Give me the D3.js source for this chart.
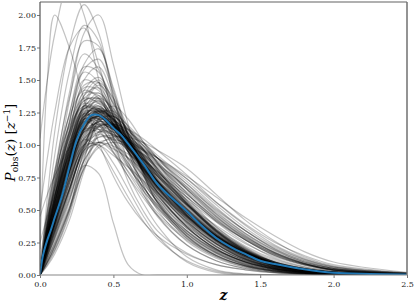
<!DOCTYPE html>
<html>
<head>
<meta charset="utf-8">
<script src="https://cdn.jsdelivr.net/npm/d3@7"></script>
<style>
  html, body { margin: 0; padding: 0; background: #fff; }
  svg { display: block; }
  text { font-family: "DejaVu Serif", "Liberation Serif", serif; }
</style>
</head>
<body>
<svg id="chart" width="415" height="305"></svg>
<script>
// ---- Data ----
const gridZ = [0, 0.05, 0.1, 0.2, 0.3, 0.4, 0.5, 0.6, 0.7, 0.8, 1.0, 1.2, 1.4, 1.6, 1.8, 2.0, 2.5];

const sampleCurves = [
  [0,.22,.42,.80,1.12,1.22,1.14,1.02,.88,.72,.50,.30,.17,.09,.05,.02,.004],
  [0,.30,.52,.92,1.22,1.28,1.15,.99,.83,.68,.45,.27,.15,.08,.04,.02,.003],
  [0,.18,.35,.70,1.02,1.16,1.12,1.03,.90,.76,.54,.34,.19,.10,.05,.025,.005],
  [0,.26,.48,.88,1.20,1.32,1.20,1.04,.87,.71,.47,.28,.15,.07,.035,.015,.002],
  [.02,.35,.60,1.00,1.28,1.30,1.16,.98,.80,.64,.41,.24,.13,.06,.03,.012,.002],
  [0,.15,.30,.64,.98,1.15,1.14,1.06,.94,.80,.57,.36,.21,.11,.055,.025,.004],
  [0,.24,.44,.84,1.18,1.26,1.16,1.00,.85,.70,.48,.29,.16,.08,.04,.018,.003],
  [0,.28,.50,.90,1.25,1.38,1.25,1.05,.86,.68,.43,.25,.13,.06,.03,.012,.002],
  [0,.20,.38,.74,1.06,1.18,1.13,1.02,.89,.75,.52,.32,.18,.09,.045,.02,.004],
  [0,.32,.56,.96,1.24,1.24,1.10,.95,.80,.66,.44,.27,.15,.075,.035,.015,.002],
  [0,.12,.26,.58,.94,1.14,1.16,1.08,.96,.82,.58,.37,.22,.12,.06,.03,.006],
  [0,.25,.46,.86,1.16,1.22,1.12,.99,.85,.71,.49,.30,.17,.085,.04,.018,.003],
  [0,.38,.64,1.06,1.34,1.35,1.18,.97,.78,.61,.38,.22,.11,.05,.022,.01,.001],
  [0,.22,.40,.78,1.08,1.20,1.14,1.03,.90,.76,.53,.33,.18,.09,.045,.02,.004],
  [0,.27,.49,.89,1.21,1.30,1.18,1.01,.84,.68,.45,.27,.15,.07,.033,.014,.002],
  [0,.16,.32,.67,1.00,1.15,1.12,1.04,.92,.78,.56,.35,.20,.10,.05,.022,.004],
  [0,.29,.51,.91,1.19,1.23,1.12,.98,.84,.70,.48,.29,.16,.08,.038,.016,.003],
  [0,.21,.40,.80,1.14,1.27,1.20,1.06,.90,.74,.50,.30,.16,.08,.038,.016,.003],
  [.03,.33,.55,.94,1.20,1.20,1.08,.95,.82,.69,.48,.30,.17,.09,.045,.02,.004],
  [0,.19,.37,.75,1.10,1.25,1.20,1.07,.92,.76,.51,.31,.17,.08,.038,.016,.003],
  [0,.24,.45,.85,1.17,1.24,1.14,1.00,.86,.72,.49,.30,.17,.085,.04,.017,.003],
  [0,.14,.28,.62,.99,1.19,1.19,1.09,.95,.80,.55,.34,.19,.09,.045,.02,.003],
  [0,.31,.54,.95,1.27,1.33,1.19,1.01,.83,.67,.44,.26,.14,.07,.032,.013,.002],
  [0,.23,.43,.82,1.13,1.21,1.13,1.01,.87,.73,.51,.31,.18,.09,.044,.02,.004],
  [0,.26,.47,.86,1.15,1.19,1.09,.97,.85,.72,.51,.32,.18,.09,.045,.02,.004],
  [0,.20,.38,.72,1.00,1.08,1.04,.97,.89,.80,.62,.44,.29,.17,.09,.045,.008],
  [0,.17,.33,.66,.96,1.06,1.05,1.00,.93,.84,.66,.47,.31,.18,.10,.05,.01],
  [0,.25,.46,.84,1.10,1.14,1.07,.98,.89,.79,.60,.42,.27,.15,.08,.04,.007],
  [0,.22,.41,.77,1.05,1.12,1.08,1.01,.92,.83,.64,.45,.29,.17,.09,.04,.006],
  [0,.14,.29,.60,.92,1.06,1.07,1.03,.96,.88,.70,.51,.34,.20,.11,.055,.012],
  [0,.30,.55,.98,1.26,1.24,1.04,.84,.66,.51,.30,.16,.08,.035,.015,.006,.001],
  [0,.34,.60,1.02,1.24,1.17,.98,.79,.62,.48,.28,.15,.07,.03,.012,.005,.001],
  [0,.26,.50,.92,1.18,1.12,.94,.76,.60,.46,.27,.14,.07,.03,.012,.005,.001],
  [0,.20,.40,.80,1.10,1.10,.95,.80,.65,.52,.32,.18,.09,.04,.018,.007,.001],
  [0,.28,.52,.94,1.20,1.15,.99,.83,.68,.54,.34,.19,.10,.045,.02,.008,.001],
  [0,.34,.62,1.12,1.46,1.48,1.28,1.04,.82,.63,.37,.20,.10,.045,.02,.008,.001],
  [0,.28,.54,1.04,1.42,1.52,1.34,1.08,.84,.64,.37,.20,.10,.045,.02,.008,.001],
  [0,.40,.72,1.24,1.56,1.48,1.22,.96,.74,.56,.32,.17,.08,.035,.015,.006,.001],
  [0,.30,.58,1.10,1.50,1.60,1.36,1.06,.80,.60,.34,.18,.09,.04,.017,.007,.001],
  [0,.36,.66,1.18,1.58,1.66,1.40,1.08,.80,.58,.32,.17,.08,.035,.015,.006,.001],
  [0,.44,.80,1.36,1.70,1.58,1.24,.94,.70,.52,.29,.15,.07,.03,.012,.005,.001],
  [0,.30,.60,1.16,1.62,1.74,1.44,1.08,.78,.56,.30,.15,.07,.03,.012,.005,.001],
  [0,.50,.92,1.56,1.92,1.80,1.36,.98,.70,.50,.26,.13,.06,.025,.01,.004,.001],
  [0,.36,.70,1.34,1.86,2.00,1.62,1.16,.80,.55,.28,.14,.06,.025,.01,.004,.001],
  [0,.60,1.10,1.76,2.08,1.86,1.38,.96,.66,.46,.23,.11,.05,.02,.008,.003,.001],
  [0,.40,.76,1.40,1.80,1.76,1.42,1.06,.78,.56,.30,.15,.07,.03,.012,.005,.001],
  [.2,1.5,2.0,1.75,1.35,1.02,.76,.56,.41,.30,.16,.08,.04,.018,.008,.003,0],
  [1.05,1.5,1.85,2.25,2.0,1.5,1.05,.72,.50,.34,.17,.08,.04,.017,.007,.003,0],
  [.5,.9,1.25,1.75,1.9,1.62,1.22,.88,.63,.45,.23,.11,.05,.02,.008,.003,0],
  [0,.10,.22,.50,.84,.78,.40,.08,0,0,0,0,0,0,0,0,0],
  [0,.16,.32,.66,.96,1.00,.86,.66,.46,.30,.10,.02,0,0,0,0,0],
  [0,.22,.42,.80,1.04,.98,.80,.60,.42,.28,.11,.03,.005,0,0,0,0],
  [0,.10,.22,.52,.88,1.02,.94,.76,.56,.38,.14,.04,.008,0,0,0,0],
  [0,.12,.24,.52,.82,.98,1.02,.99,.93,.85,.68,.50,.34,.21,.12,.06,.012],
  [.45,.62,.76,.98,1.12,1.12,1.02,.90,.77,.64,.43,.26,.14,.07,.033,.014,.002],
  [.25,.45,.62,.92,1.16,1.22,1.12,.98,.83,.68,.45,.27,.15,.075,.035,.015,.002],
  [0,.10,.22,.50,.82,1.00,1.06,1.06,1.02,.96,.82,.62,.42,.26,.14,.07,.015],
  [0,.18,.34,.66,.96,1.10,1.10,1.05,.98,.90,.72,.52,.34,.20,.11,.05,.01],
  [0,.20,.39,.78,1.12,1.26,1.19,1.04,.88,.72,.48,.28,.15,.075,.035,.015,.002],
  [0,.27,.48,.87,1.17,1.25,1.16,1.02,.87,.72,.49,.30,.17,.085,.04,.018,.003],
  [0,.24,.46,.88,1.22,1.30,1.18,1.02,.86,.70,.46,.27,.14,.07,.033,.014,.002],
  [0,.19,.36,.72,1.06,1.20,1.16,1.05,.91,.77,.54,.33,.19,.095,.046,.02,.004],
  [0,.29,.52,.93,1.23,1.27,1.14,.98,.83,.68,.46,.28,.15,.075,.035,.015,.002],
  [0,.21,.41,.81,1.13,1.23,1.15,1.02,.88,.74,.51,.31,.17,.085,.04,.018,.003],
  [0,.33,.58,1.00,1.30,1.36,1.20,1.00,.81,.64,.41,.24,.12,.055,.025,.01,.001],
  [0,.17,.34,.70,1.04,1.18,1.15,1.05,.92,.78,.55,.35,.20,.10,.05,.022,.004],
  [0,.26,.48,.90,1.24,1.34,1.22,1.04,.86,.70,.46,.27,.14,.065,.03,.012,.002],
  [0,.23,.44,.83,1.14,1.22,1.13,1.00,.86,.72,.50,.31,.17,.085,.04,.018,.003],
  [0,.30,.54,.96,1.28,1.40,1.26,1.05,.85,.67,.42,.24,.12,.055,.025,.01,.001],
  [0,.18,.35,.70,1.02,1.14,1.10,1.01,.89,.76,.54,.34,.19,.095,.045,.02,.004],
  [0,.36,.62,1.06,1.38,1.44,1.26,1.02,.80,.62,.37,.20,.10,.045,.02,.008,.001],
  [0,.20,.40,.82,1.20,1.36,1.28,1.10,.90,.72,.46,.26,.13,.06,.027,.011,.002],
  [0,.26,.49,.90,1.20,1.26,1.16,1.02,.87,.72,.48,.29,.16,.08,.037,.016,.003],
  [0,.15,.30,.64,1.00,1.20,1.22,1.12,.97,.81,.55,.33,.18,.085,.04,.017,.003],
  [0,.32,.56,.98,1.30,1.46,1.32,1.08,.86,.66,.40,.22,.11,.05,.022,.009,.001],
  [0,.24,.44,.80,1.08,1.18,1.15,1.09,1.00,.90,.70,.49,.32,.19,.10,.05,.01],
  [0,.30,.52,.90,1.16,1.22,1.16,1.07,.97,.87,.66,.46,.30,.17,.09,.045,.008],
  [0,.20,.38,.74,1.04,1.16,1.15,1.10,1.02,.92,.74,.54,.36,.22,.12,.06,.012],
  [0,.36,.60,.98,1.22,1.24,1.15,1.04,.93,.82,.62,.43,.28,.16,.085,.04,.007],
  [0,.28,.50,.88,1.16,1.26,1.22,1.13,1.02,.90,.68,.47,.30,.17,.09,.04,.007],
  [0,.16,.32,.66,.98,1.14,1.16,1.12,1.05,.96,.77,.56,.38,.23,.13,.065,.014],
  [0,.40,.66,1.06,1.28,1.26,1.14,1.02,.90,.79,.60,.42,.27,.15,.08,.038,.006],
  [0,.22,.42,.80,1.12,1.26,1.24,1.15,1.03,.90,.66,.45,.28,.16,.085,.04,.007],
  [0,.26,.47,.84,1.10,1.17,1.12,1.05,.96,.86,.67,.48,.32,.19,.10,.05,.01],
  [0,.33,.56,.94,1.20,1.27,1.20,1.09,.97,.85,.63,.43,.27,.15,.08,.037,.006],
  [0,.34,.60,1.02,1.28,1.28,1.10,.90,.72,.56,.34,.19,.095,.045,.02,.008,.001],
  [0,.28,.52,.94,1.22,1.20,1.02,.84,.68,.54,.33,.19,.10,.05,.022,.009,.001],
  [0,.40,.68,1.10,1.32,1.26,1.06,.86,.68,.53,.31,.17,.085,.04,.017,.007,.001],
  [0,.24,.46,.88,1.18,1.20,1.06,.89,.73,.59,.38,.22,.12,.06,.027,.011,.002],
  [0,.30,.56,1.00,1.30,1.34,1.16,.95,.76,.59,.36,.20,.10,.045,.02,.008,.001],
  [0,.20,.40,.80,1.12,1.16,1.02,.86,.71,.57,.36,.21,.11,.05,.022,.009,.001],
  [0,.45,.75,1.16,1.36,1.32,1.16,.98,.82,.67,.45,.27,.15,.07,.033,.014,.002],
  [.05,.48,.78,1.14,1.30,1.24,1.10,.95,.81,.68,.47,.29,.16,.08,.038,.016,.003],
  [0,.42,.70,1.10,1.34,1.36,1.20,1.00,.82,.66,.43,.25,.13,.06,.027,.011,.002],
  [.1,.50,.80,1.22,1.42,1.36,1.16,.95,.77,.61,.39,.22,.11,.05,.022,.009,.001],
  [0,.38,.66,1.08,1.30,1.26,1.12,.97,.83,.70,.48,.30,.17,.085,.04,.017,.003],
  [0,.08,.18,.46,.84,1.10,1.18,1.12,1.00,.86,.60,.37,.21,.10,.048,.02,.003],
  [0,.10,.20,.50,.90,1.18,1.22,1.12,.97,.81,.55,.33,.18,.085,.04,.017,.003],
  [0,.09,.19,.48,.88,1.20,1.30,1.20,1.03,.86,.57,.34,.18,.085,.04,.016,.002],
  [0,.12,.24,.56,.96,1.24,1.26,1.14,.98,.82,.56,.34,.19,.09,.042,.018,.003],
  [0,.07,.16,.42,.80,1.08,1.16,1.11,1.00,.87,.63,.41,.25,.13,.065,.03,.005],
  [0,.32,.60,1.10,1.44,1.42,1.22,1.00,.81,.65,.41,.24,.12,.055,.025,.01,.001],
  [0,.26,.50,.98,1.38,1.50,1.32,1.08,.86,.68,.42,.24,.12,.055,.025,.01,.001],
  [0,.36,.66,1.18,1.50,1.44,1.22,.99,.80,.64,.40,.23,.12,.055,.025,.01,.001],
  [0,.22,.44,.90,1.32,1.48,1.36,1.14,.92,.73,.46,.27,.14,.065,.03,.012,.002],
  [0,.30,.58,1.08,1.40,1.38,1.20,1.00,.82,.67,.44,.26,.14,.065,.03,.012,.002],
  [0,.38,.70,1.24,1.60,1.56,1.30,1.03,.80,.62,.37,.20,.10,.045,.02,.008,.001],
  [0,.28,.54,1.02,1.36,1.40,1.24,1.04,.86,.70,.46,.28,.15,.07,.032,.013,.002],
  [0,.22,.40,.74,.98,1.02,.97,.90,.81,.72,.54,.38,.24,.14,.075,.036,.006],
  [0,.26,.46,.80,1.00,1.00,.92,.83,.73,.63,.45,.30,.18,.10,.05,.023,.004],
  [0,.18,.34,.66,.94,1.02,.99,.93,.85,.76,.58,.41,.27,.16,.085,.04,.007],
  [0,.14,.28,.58,.88,1.02,1.04,1.01,.96,.90,.76,.60,.44,.30,.18,.10,.02],
  [0,.20,.38,.72,1.00,1.10,1.08,1.03,.97,.90,.74,.56,.39,.25,.15,.08,.016],
  [0,.25,.47,.87,1.19,1.28,1.19,1.04,.88,.73,.49,.30,.16,.08,.037,.016,.003],
  [0,.21,.40,.79,1.11,1.21,1.15,1.04,.91,.78,.55,.35,.20,.10,.05,.022,.004],
  [0,.31,.55,.96,1.24,1.28,1.16,1.01,.86,.72,.49,.30,.17,.085,.04,.017,.003],
  [0,.27,.50,.91,1.22,1.29,1.17,1.01,.85,.70,.47,.28,.15,.075,.035,.015,.002],
  [0,.23,.43,.82,1.13,1.22,1.15,1.03,.90,.77,.54,.34,.19,.095,.045,.02,.004],
  [0,.35,.58,.98,1.25,1.25,1.12,.97,.83,.70,.49,.31,.18,.09,.043,.019,.003],
  [0,.19,.37,.76,1.12,1.28,1.23,1.09,.93,.78,.53,.32,.18,.085,.04,.017,.003]
];

const meanZ = [0, 0.02, 0.05, 0.075, 0.1, 0.15, 0.2, 0.25, 0.3, 0.35, 0.4, 0.45, 0.5, 0.55, 0.6, 0.7, 0.8, 0.9, 1.0, 1.1, 1.2, 1.3, 1.4, 1.5, 1.6, 1.8, 2.0, 2.25, 2.5];
const meanP = [0, 0.15, 0.27, 0.35, 0.44, 0.61, 0.83, 1.04, 1.16, 1.23, 1.23, 1.19, 1.13, 1.08, 1.01, 0.86, 0.70, 0.59, 0.49, 0.38, 0.285, 0.215, 0.16, 0.11, 0.085, 0.045, 0.018, 0.008, 0.003];

const xTicks = [0.0, 0.5, 1.0, 1.5, 2.0, 2.5];
const yTicks = [0.00, 0.25, 0.50, 0.75, 1.00, 1.25, 1.50, 1.75, 2.00];

// ---- Layout ----
const W = 415, H = 305;
const m = { left: 40, right: 8, top: 2, bottom: 30 };
const svg = d3.select("#chart");

const x = d3.scaleLinear().domain([0, 2.5]).range([m.left, W - m.right]);
const y = d3.scaleLinear().domain([0, 2.1]).range([H - m.bottom, m.top]);

svg.append("defs").append("clipPath").attr("id", "clip")
  .append("rect")
  .attr("x", m.left).attr("y", m.top)
  .attr("width", W - m.left - m.right).attr("height", H - m.top - m.bottom);

const line = d3.line()
  .x(d => x(d[0]))
  .y(d => y(d[1]))
  .curve(d3.curveCatmullRom.alpha(0.5));

const plot = svg.append("g").attr("clip-path", "url(#clip)");

plot.selectAll("path.sample")
  .data(sampleCurves)
  .join("path")
  .attr("class", "sample")
  .attr("d", vals => line(gridZ.map((z, i) => [z, vals[i]])))
  .attr("fill", "none")
  .attr("stroke", "#000")
  .attr("stroke-opacity", 0.24)
  .attr("stroke-width", 1.2);

plot.append("path")
  .attr("d", line(meanZ.map((z, i) => [z, meanP[i]])))
  .attr("fill", "none")
  .attr("stroke", "#1f77b4")
  .attr("stroke-width", 2);

// ---- Axes ----
const xAxis = d3.axisBottom(x).tickValues(xTicks).tickFormat(d3.format(".1f")).tickSize(3).tickSizeOuter(0);
const yAxis = d3.axisLeft(y).tickValues(yTicks).tickFormat(d3.format(".2f")).tickSize(3).tickSizeOuter(0);

const gx = svg.append("g").attr("transform", `translate(0,${H - m.bottom})`).call(xAxis);
const gy = svg.append("g").attr("transform", `translate(${m.left},0)`).call(yAxis);
[gx, gy].forEach(g => {
  g.select(".domain").remove();
  g.selectAll(".tick line").attr("stroke", "#555").attr("stroke-width", 0.8);
  g.selectAll(".tick text").attr("fill", "#222")
    .style("font-family", '"DejaVu Serif", serif').style("font-size", "8px");
});
gx.selectAll(".tick text").attr("dy", "0.95em").attr("y", 4);
gy.selectAll(".tick text").attr("x", -4);

// spines
svg.append("line").attr("x1", m.left).attr("x2", W - m.right).attr("y1", m.top).attr("y2", m.top)
  .attr("stroke", "#b0b0b0").attr("stroke-width", 2);
svg.append("line").attr("x1", W - m.right).attr("x2", W - m.right).attr("y1", m.top).attr("y2", H - m.bottom)
  .attr("stroke", "#707070").attr("stroke-width", 1.5);
svg.append("line").attr("x1", m.left).attr("x2", W - m.right).attr("y1", H - m.bottom).attr("y2", H - m.bottom)
  .attr("stroke", "#888").attr("stroke-width", 1.2);
svg.append("line").attr("x1", m.left).attr("x2", m.left).attr("y1", m.top).attr("y2", H - m.bottom)
  .attr("stroke", "#555").attr("stroke-width", 1.2);

// labels
svg.append("text")
  .attr("x", (m.left + W - m.right) / 2).attr("y", 300)
  .attr("text-anchor", "middle")
  .style("font-size", "14px").style("font-style", "italic").style("font-weight", "bold")
  .text("z");

const yl = svg.append("text")
  .attr("transform", `translate(15,${(m.top + H - m.bottom) / 2 + 4}) rotate(-90)`)
  .attr("text-anchor", "middle")
  .style("font-size", "13.5px");
yl.append("tspan").style("font-style", "italic").text("P");
yl.append("tspan").attr("dy", 3).style("font-size", "9px").text("obs");
yl.append("tspan").attr("dy", -3).text("(");
yl.append("tspan").style("font-style", "italic").text("z");
yl.append("tspan").text(") [");
yl.append("tspan").style("font-style", "italic").text("z");
yl.append("tspan").attr("dy", -5).style("font-size", "9px").text("−1");
yl.append("tspan").attr("dy", 5).text("]");
</script>
</body>
</html>
